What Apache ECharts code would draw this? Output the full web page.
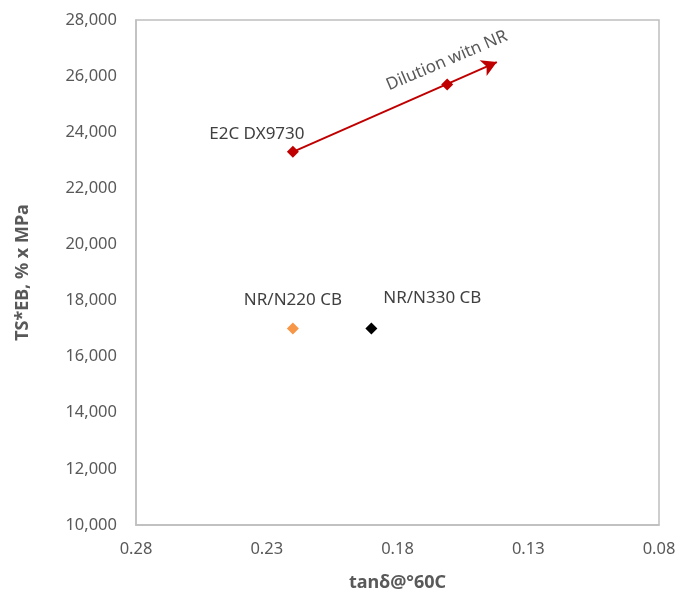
<!DOCTYPE html>
<html><head><meta charset="utf-8">
<script src="https://cdn.jsdelivr.net/npm/echarts@6/dist/echarts.min.js"></script>
<style>html,body{margin:0;padding:0;background:#fff}#c{width:676px;height:594px}</style>
</head><body><div id="c"></div>
<script>
const xTicks = [0.28, 0.23, 0.18, 0.13, 0.08];
const yTicks = [10000, 12000, 14000, 16000, 18000, 20000, 22000, 24000, 26000, 28000];
const e2cNames = ["E2C DX9730", ""];
const e2cX = [0.22, 0.161];
const e2cY = [23300, 25700];
const arrowTip = [0.142, 26500];
const arrowLabel = "Dilution witn NR";
const n220 = { name: "NR/N220 CB", x: 0.22, y: 17000 };
const n330 = { name: "NR/N330 CB", x: 0.19, y: 17000 };

const FONT = "'Noto Sans', sans-serif";
const chart = echarts.init(document.getElementById('c'), null, { renderer: 'canvas' });
chart.setOption({
  animation: false,
  grid: { left: 136, right: 17, top: 20, bottom: 69, outerBoundsMode: 'none', containLabel: false,
    show: true, borderColor: '#bfbfbf', borderWidth: 1.5 },
  xAxis: {
    type: 'value', inverse: true, min: 0.08, max: 0.28, interval: 0.05,
    name: 'tanδ@°60C', nameLocation: 'middle', nameGap: 49,
    nameTextStyle: { fontFamily: FONT, fontSize: 18, fontWeight: 'bold', color: '#595959' },
    axisLine: { show: true, lineStyle: { color: '#bfbfbf', width: 1.5 } },
    axisTick: { show: false },
    splitLine: { show: false },
    axisLabel: { customValues: xTicks, fontFamily: FONT, fontSize: 16.5, color: '#595959', margin: 16,
      formatter: v => v.toFixed(2) }
  },
  yAxis: {
    type: 'value', min: yTicks[0], max: yTicks[yTicks.length - 1], interval: 2000,
    name: 'TS*EB, % x MPa', nameLocation: 'middle', nameGap: 104, nameRotate: 90,
    nameTextStyle: { fontFamily: FONT, fontSize: 18, fontWeight: 'bold', color: '#595959' },
    axisLine: { show: true, lineStyle: { color: '#bfbfbf', width: 1.5 } },
    axisTick: { show: false },
    splitLine: { show: false },
    axisLabel: { fontFamily: FONT, fontSize: 16.5, color: '#595959', margin: 19,
      formatter: v => v.toLocaleString('en-US') }
  },
  series: [
    {
      type: 'scatter', symbol: 'diamond', symbolSize: 12,
      itemStyle: { color: '#c00000', opacity: 1 },
      data: e2cX.map((x, i) => ({
        value: [x, e2cY[i]], name: e2cNames[i],
        label: i === 0
          ? { show: true, formatter: '{b}', position: 'top', offset: [-36, 2], fontFamily: FONT, fontSize: 17, color: '#404040' }
          : { show: true, formatter: arrowLabel, position: 'inside', rotate: 23, offset: [9, -22], fontFamily: FONT, fontSize: 17, color: '#595959' }
      })),
      markLine: {
        silent: true, symbol: ['none', 'arrow'], symbolSize: [13, 15],
        lineStyle: { color: '#c00000', width: 2, type: 'solid' },
        label: { show: false },
        data: [[{ coord: [e2cX[0], e2cY[0]] }, { coord: arrowTip }]]
      },
      z: 3
    },
    {
      type: 'scatter', symbol: 'diamond', symbolSize: 12,
      itemStyle: { color: '#f79646', opacity: 1 },
      data: [{ value: [n220.x, n220.y], name: n220.name }],
      label: { show: true, formatter: '{b}', position: 'top', distance: 14, fontFamily: FONT, fontSize: 17, color: '#404040' }
    },
    {
      type: 'scatter', symbol: 'diamond', symbolSize: 12,
      itemStyle: { color: '#000000', opacity: 1 },
      data: [{ value: [n330.x, n330.y], name: n330.name }],
      label: { show: true, formatter: '{b}', position: 'top', offset: [61, -2], distance: 14, fontFamily: FONT, fontSize: 17, color: '#404040' }
    }
  ]
});
</script></body></html>
